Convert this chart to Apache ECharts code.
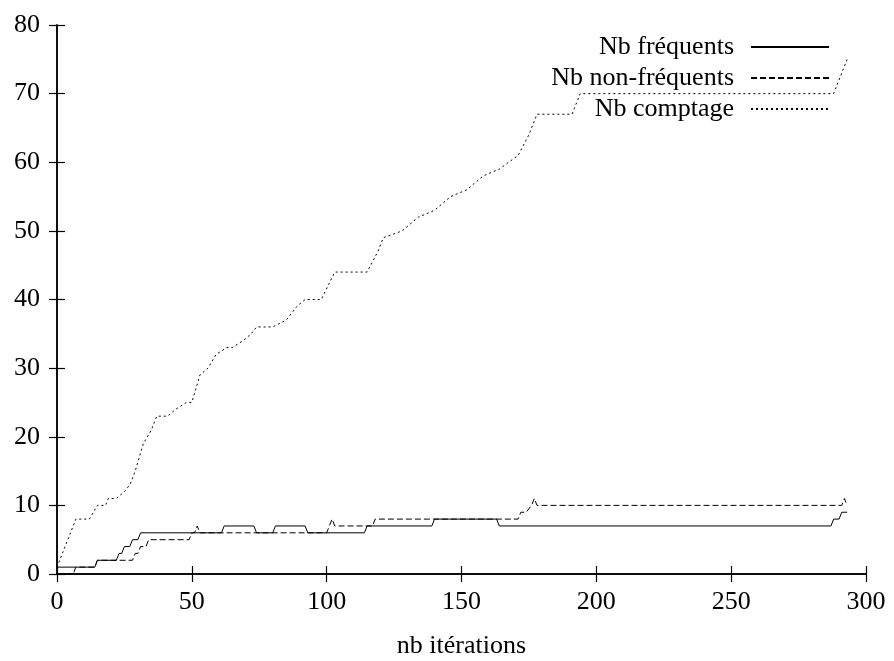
<!DOCTYPE html>
<html>
<head>
<meta charset="utf-8">
<script src="https://cdn.jsdelivr.net/npm/echarts@6/dist/echarts.min.js"></script>
<style>
  html, body { margin: 0; padding: 0; background: #fff; }
  #chart { width: 894px; height: 661px; }
</style>
</head>
<body>
<div id="chart"></div>
<script>
// points [iteration, count] where the curves change
var frequents = [
  [0, 1], [14, 1], [15, 2], [22, 2], [23, 3], [24, 3], [25, 4], [27, 4], [28, 5], [30, 5],
  [31, 6], [61, 6], [62, 7], [73, 7], [74, 6], [80, 6], [81, 7], [92, 7], [93, 6], [114, 6],
  [115, 7], [139, 7], [140, 8], [163, 8], [164, 7], [287, 7], [288, 8], [290, 8], [291, 9], [293, 9]
]
var nonFrequents = [
  [0, 0], [6, 0], [7, 1], [14, 1], [15, 2], [28, 2], [29, 3], [30, 3], [31, 4], [33, 4],
  [34, 5], [49, 5], [50, 6], [51, 6], [52, 7], [53, 6], [100, 6], [101, 7], [102, 8], [103, 7],
  [117, 7], [118, 8], [171, 8], [172, 9], [174, 9], [176, 10], [177, 11], [178, 10], [291, 10],
  [292, 11], [293, 10]
]
var comptage = [
  [0, 1], [7, 8], [12, 8], [15, 10], [18, 10], [19, 11], [22, 11], [25, 12], [27, 13], [29, 15],
  [32, 19], [35, 21], [37, 23], [41, 23], [44, 24], [48, 25], [50, 25], [53, 29], [56, 30],
  [59, 32], [63, 33], [65, 33], [69, 34], [72, 35], [74, 36], [80, 36], [85, 37], [89, 39],
  [92, 40], [98, 40], [103, 44], [115, 44], [119, 47], [121, 49], [128, 50], [134, 52],
  [140, 53], [146, 55], [152, 56], [158, 58], [164, 59], [171, 61], [175, 64], [178, 67],
  [191, 67], [194, 70], [288, 70], [293, 75]
]
var seriesNames = ['Nb fréquents', 'Nb non-fréquents', 'Nb comptage']
var xTitle = 'nb itérations'

var font = 'Liberation Serif'
var chart = echarts.init(document.getElementById('chart'))

function axisBase () {
  return {
    type: 'value',
    splitLine: { show: false },
    axisLine: { show: true, lineStyle: { color: '#000', width: 1.5 } },
    axisTick: { show: true, inside: true, length: 8, lineStyle: { color: '#000', width: 1.2 } }
  }
}

function lineSeries (name, data, dash) {
  return {
    name: name,
    type: 'line',
    data: data,
    symbol: 'none',
    xAxisIndex: 0,
    yAxisIndex: 0,
    itemStyle: { color: '#000' },
    lineStyle: { color: '#000', width: 1, type: dash }
  }
}

chart.setOption({
  animation: false,
  textStyle: { fontFamily: font },
  grid: { left: 57, right: 28, top: 25, bottom: 87, outerBoundsMode: 'none' },
  legend: {
    orient: 'vertical',
    right: 59,
    top: 29,
    align: 'right',
    itemWidth: 78,
    itemHeight: 10,
    itemGap: 5,
    itemStyle: { opacity: 0 },
    textStyle: { fontFamily: font, fontSize: 26, color: '#000', padding: [0, 12, 0, 0] },
    data: seriesNames
  },
  xAxis: [
    Object.assign(axisBase(), {
      min: 0, max: 300, interval: 50,
      position: 'bottom',
      name: xTitle,
      nameLocation: 'middle',
      nameGap: 59,
      nameTextStyle: { fontFamily: font, fontSize: 26, color: '#000' },
      axisLabel: { fontFamily: font, fontSize: 26, color: '#000', margin: 15 }
    }),
    Object.assign(axisBase(), {
      min: 0, max: 300, interval: 50,
      position: 'top',
      axisLabel: { show: false }
    })
  ],
  yAxis: [
    Object.assign(axisBase(), {
      min: 0, max: 80, interval: 10,
      position: 'left',
      axisLabel: { fontFamily: font, fontSize: 26, color: '#000', margin: 17 }
    }),
    Object.assign(axisBase(), {
      min: 0, max: 80, interval: 10,
      position: 'right',
      axisLabel: { show: false }
    })
  ],
  series: [
    lineSeries(seriesNames[0], frequents, 'solid'),
    lineSeries(seriesNames[1], nonFrequents, [6, 3]),
    lineSeries(seriesNames[2], comptage, [2, 3])
  ]
})
</script>
</body>
</html>
